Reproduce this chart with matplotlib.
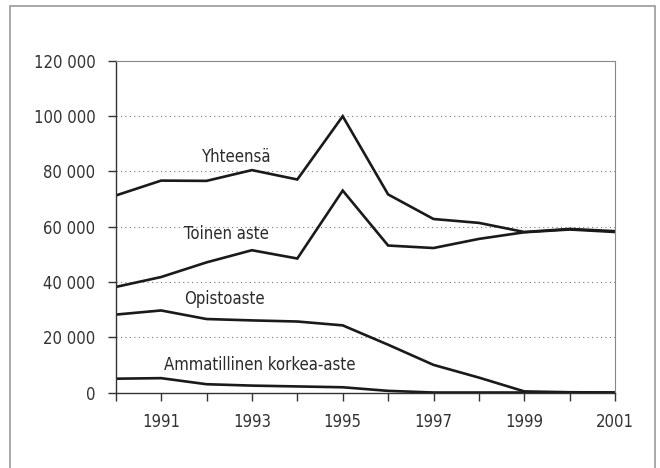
import matplotlib.pyplot as plt
from matplotlib.patches import Rectangle

years = list(range(1990, 2002))
yhteensa = [71300, 76700, 76600, 80500, 77100, 100000, 71700, 62800, 61400, 58100, 59200, 58400]
toinen_aste = [38200, 41800, 47100, 51500, 48500, 73100, 53200, 52300, 55600, 58000, 59000, 58100]
opistoaste = [28200, 29700, 26600, 26100, 25700, 24300, 17300, 10000, 5400, 400, 100, 0]
amk = [5000, 5200, 3000, 2500, 2200, 1900, 600, 0, 0, 0, 0, 0]

series = [yhteensa, toinen_aste, opistoaste, amk]
labels = ["Yhteensä", "Toinen aste", "Opistoaste", "Ammatillinen korkea-aste"]
label_pos = [(1992.66, 85300), (1992.45, 57300), (1992.4, 33900), (1993.18, 9800)]
y_ticks = [0, 20000, 40000, 60000, 80000, 100000, 120000]

plt.rcParams['font.family'] = ['DejaVu Sans']
plt.rcParams['font.stretch'] = 'condensed'

fig = plt.figure(figsize=(6.6, 4.68), dpi=100)
ax = fig.add_axes([0.1753, 0.1613, 0.7567, 0.7084])

for values in series:
    ax.plot(years, values, color='#1a1a1a', linewidth=1.9, solid_joinstyle='miter')

for text, (x, y) in zip(labels, label_pos):
    ax.text(x, y, text, ha='center', va='center', fontsize=12, color='#2a2a2a')

ax.set_xlim(1990, 2001)
ax.set_ylim(0, 120000)
ax.set_yticks(y_ticks)
ax.set_yticklabels([f"{v:,}".replace(",", " ") for v in y_ticks])
ax.set_xticks(years)
ax.set_xticklabels([str(y) if y % 2 == 1 else "" for y in years])

# pisteviivat apuviivoina
for v in y_ticks[1:-1]:
    ax.axhline(v, color='#777777', linestyle=(0, (1, 3)), linewidth=0.8, zorder=0)

for side in ['top', 'right']:
    ax.spines[side].set_color('#888888')
    ax.spines[side].set_linewidth(0.8)
for side in ['left', 'bottom']:
    ax.spines[side].set_color('#333333')
    ax.spines[side].set_linewidth(1.0)

ax.tick_params(axis='both', direction='out', length=5.5, width=1, color='#333333',
               labelsize=12, labelcolor='#333333')
ax.tick_params(axis='x', pad=9)
ax.tick_params(axis='y', pad=9)

# kehys koko kuvan ympäri
fig.patches.append(Rectangle((0.015, -0.05), 0.977, 1.037, transform=fig.transFigure,
                             fill=False, edgecolor='#9a9a9a', linewidth=1.2))

fig.savefig("out.png", dpi=100)
